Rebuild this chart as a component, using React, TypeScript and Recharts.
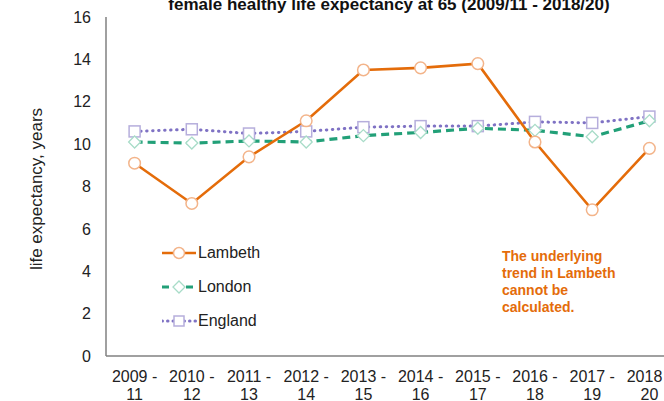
import React from "react";
import { Line, LineChart, XAxis, YAxis } from "recharts";

const periods = [
  "2009 - 11",
  "2010 - 12",
  "2011 - 13",
  "2012 - 14",
  "2013 - 15",
  "2014 - 16",
  "2015 - 17",
  "2016 - 18",
  "2017 - 19",
  "2018 - 20",
];
const lambeth = [9.1, 7.2, 9.4, 11.1, 13.5, 13.6, 13.8, 10.1, 6.9, 9.8];
const london = [10.1, 10.05, 10.15, 10.1, 10.4, 10.55, 10.75, 10.65, 10.35, 11.1];
const england = [10.6, 10.7, 10.5, 10.6, 10.8, 10.85, 10.85, 11.05, 11.0, 11.3];
const yTicks = [0, 2, 4, 6, 8, 10, 12, 14, 16];

const FONT = "'Liberation Sans', Arial, sans-serif";
const ORANGE = "#E46C0A";
const GREEN = "#22A078";
const PURPLE = "#7F72C4";

const data = periods.map((p, i) => ({
  period: p,
  Lambeth: lambeth[i],
  London: london[i],
  England: england[i],
}));

const Circle = (props: any) => {
  const { cx, cy, key } = props;
  if (cx == null || cy == null) return null;
  return <circle key={key} cx={cx} cy={cy} r={5.8} fill="#fff" stroke="#F3B48A" strokeWidth={1.5} />;
};

const Diamond = (props: any) => {
  const { cx, cy, key } = props;
  if (cx == null || cy == null) return null;
  const s = 6;
  return (
    <polygon
      key={key}
      points={`${cx},${cy - s} ${cx + s},${cy} ${cx},${cy + s} ${cx - s},${cy}`}
      fill="#fff"
      stroke="#A8DCC8"
      strokeWidth={1.3}
    />
  );
};

const Square = (props: any) => {
  const { cx, cy, key } = props;
  if (cx == null || cy == null) return null;
  const s = 5.5;
  return <rect key={key} x={cx - s} y={cy - s} width={s * 2} height={s * 2} fill="#fff" stroke="#B6AEDC" strokeWidth={1.5} />;
};

const XTick = (props: any) => {
  const { x, y, payload } = props;
  const [a, b] = String(payload.value).split(" - ");
  return (
    <text x={x} y={y} textAnchor="middle" fontFamily={FONT} fontSize={16} fill="#222">
      <tspan x={x} dy={18}>{`${a} -`}</tspan>
      <tspan x={x} dy={18}>{b}</tspan>
    </text>
  );
};

const legendRows = [
  { name: "Lambeth", color: ORANGE, dash: undefined, cap: "butt", marker: "circle" },
  { name: "London", color: GREEN, dash: "7 5", cap: "butt", marker: "diamond" },
  { name: "England", color: PURPLE, dash: "0.5 5", cap: "round", marker: "square" },
];

const LegendBox = () => (
  <div style={{ position: "absolute", left: 162, top: 236, fontFamily: FONT, fontSize: 16, color: "#222" }}>
    {legendRows.map((r) => (
      <div key={r.name} style={{ display: "flex", alignItems: "center", height: 34 }}>
        <svg width={35} height={14} style={{ marginRight: 1 }}>
          <line x1={0} y1={7} x2={34} y2={7} stroke={r.color} strokeWidth={r.marker === "circle" ? 2.5 : 3} strokeDasharray={r.dash} strokeLinecap={r.cap as any} />
          {r.marker === "circle" && <circle cx={17} cy={7} r={5.5} fill="#fff" stroke="#F3B48A" strokeWidth={1.5} />}
          {r.marker === "diamond" && <polygon points="17,1 23,7 17,13 11,7" fill="#fff" stroke="#A8DCC8" strokeWidth={1.3} />}
          {r.marker === "square" && <rect x={12} y={2} width={10} height={10} fill="#fff" stroke="#B6AEDC" strokeWidth={1.5} />}
        </svg>
        <span>{r.name}</span>
      </div>
    ))}
  </div>
);

export default function App() {
  return (
    <div style={{ position: "fixed", left: 0, top: 0, width: 664, height: 401, overflow: "hidden", background: "#fff" }}>
      <div
        style={{
          position: "absolute",
          left: 0,
          width: 778,
          textAlign: "center",
          top: -5,
          fontFamily: FONT,
          fontWeight: "bold",
          fontSize: 17,
          lineHeight: "20px",
          color: "#111",
          whiteSpace: "nowrap",
        }}
      >
        female healthy life expectancy at 65 (2009/11 - 2018/20)
      </div>
      <LineChart width={700} height={401} data={data} margin={{ top: 17, right: 22, bottom: 0, left: 0 }}>
        <XAxis
          dataKey="period"
          axisLine={{ stroke: "#808080", strokeWidth: 1.5 }}
          tickLine={false}
          tick={<XTick />}
          interval={0}
          height={45}
          padding={{ left: 28.6, right: 28.6 }}
        />
        <YAxis
          domain={[0, 16]}
          ticks={yTicks}
          width={106}
          axisLine={{ stroke: "#808080", strokeWidth: 1.5 }}
          tickLine={false}
          tickSize={0}
          tickMargin={15}
          tick={{ fontFamily: FONT, fontSize: 16, fill: "#222" }}
          label={{
            content: () => (
              <text x={42} y={189} transform="rotate(-90 42 189)" textAnchor="middle" fontFamily={FONT} fontSize={17} fill="#222">
                life expectancy, years
              </text>
            ),
          }}
        />
        <Line dataKey="England" stroke={PURPLE} strokeWidth={3} strokeDasharray="0.5 5.5" strokeLinecap="round" dot={<Square />} activeDot={false} isAnimationActive={false} />
        <Line dataKey="London" stroke={GREEN} strokeWidth={3.2} strokeDasharray="8 5" dot={<Diamond />} activeDot={false} isAnimationActive={false} />
        <Line dataKey="Lambeth" stroke={ORANGE} strokeWidth={2.6} dot={<Circle />} activeDot={false} isAnimationActive={false} />
      </LineChart>
      <LegendBox />
      <div
        style={{
          position: "absolute",
          left: 502,
          top: 248,
          fontFamily: FONT,
          fontWeight: "bold",
          fontSize: 14,
          lineHeight: "17px",
          color: ORANGE,
        }}
      >
        The underlying
        <br />
        trend in Lambeth
        <br />
        cannot be
        <br />
        calculated.
      </div>
    </div>
  );
}
